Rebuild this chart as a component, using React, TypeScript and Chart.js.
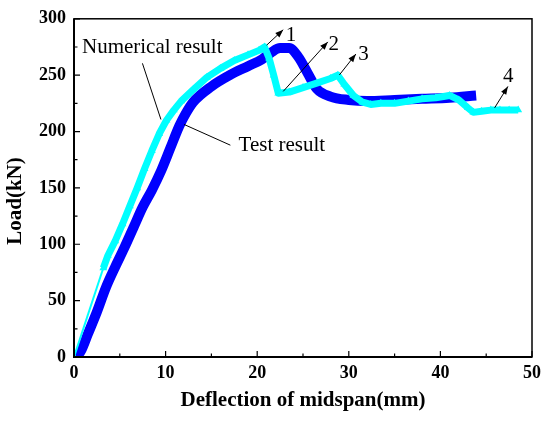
import React, { useEffect, useRef } from "react";
import { Chart, registerables } from "chart.js";

Chart.register(...registerables);

// Test result (dark blue band)
const testX = [0.3, 0.8, 1.5, 2.5, 3.5, 4.5, 5.5, 6.5, 7.5, 8.5, 9.5, 10.5, 11.5, 12.2, 13, 15, 17, 19, 20.5, 21.5, 22.5, 23.5, 24.5, 25.5, 26.5, 28, 30, 32, 35, 38, 41, 43.9];
const testY = [0, 6, 20, 40, 62, 80, 97, 115, 133, 148, 165, 185, 205, 216, 226, 240, 250, 258, 264, 270, 274, 274, 266, 252, 238, 231, 228, 227, 228, 229, 230, 232];

// Numerical result (cyan triangles)
const numX = [0, 3.2, 3.7, 4.5, 5.3, 6.1, 6.9, 7.7, 8.5, 9.3, 10.1, 10.9, 11.7, 13, 14.5, 16, 17.5, 19, 20.2, 20.8, 21.3, 21.8, 22.3, 23.5, 25, 26.5, 28, 28.8, 29.5, 30.5, 31.5, 32.4, 33.5, 35, 36.5, 38, 39.5, 41, 42, 43, 43.6, 44.5, 45.5, 46.5, 47.5, 48.5];
const numY = [0, 79, 90, 103, 118, 134, 150, 167, 183, 198, 210, 219, 227, 237, 248, 256, 263, 268, 272, 275, 265, 250, 234, 235, 239, 243, 247, 250, 242, 232, 226, 224, 225, 225, 227, 229, 230, 232, 228, 221, 217, 218, 219, 219, 219, 219];

const xTicks = [0, 10, 20, 30, 40, 50];
const yTicks = [0, 50, 100, 150, 200, 250, 300];

const xTitle = "Deflection of midspan(mm)";
const yTitle = "Load(kN)";

// text labels in data coordinates
const textLabels = [
  { text: "Numerical result", x: 0.87, y: 274.5, align: "left" },
  { text: "Test result", x: 17.97, y: 187.3, align: "left" },
  { text: "1", x: 23.7, y: 285.3, align: "center" },
  { text: "2", x: 28.35, y: 277.5, align: "center" },
  { text: "3", x: 31.6, y: 268.3, align: "center" },
  { text: "4", x: 47.4, y: 248.8, align: "center" },
];
// leader lines
const leaders = [
  { x1: 9.49, y1: 210.7, x2: 7.47, y2: 260.5, arrow: false },
  { x1: 12.01, y1: 206.3, x2: 17.07, y2: 187.9, arrow: false },
  { x1: 21.03, y1: 276.6, x2: 22.84, y2: 290.3, arrow: true },
  { x1: 22.84, y1: 235.6, x2: 27.71, y2: 279.5, arrow: true },
  { x1: 28.97, y1: 250.2, x2: 30.77, y2: 268.7, arrow: true },
  { x1: 45.92, y1: 221, x2: 47.37, y2: 240, arrow: true },
];

const SERIF = '"Liberation Serif", "Times New Roman", serif';

const framePlugin = {
  id: "framePlugin",
  afterDraw(chart: any) {
    const { ctx, chartArea } = chart;
    const xs = chart.scales.x;
    const ys = chart.scales.y;
    const { left, right, top, bottom } = chartArea;
    ctx.save();
    ctx.strokeStyle = "#000";
    ctx.lineWidth = 1.5;
    ctx.strokeRect(left, top, right - left, bottom - top);
    ctx.lineWidth = 2;
    ctx.beginPath();
    ctx.moveTo(left, top);
    ctx.lineTo(left, bottom);
    ctx.lineTo(right, bottom);
    ctx.stroke();
    ctx.lineWidth = 1.2;
    ctx.beginPath();
    for (let v = 0; v <= 50; v += 5) {
      const px = xs.getPixelForValue(v);
      const len = v % 10 === 0 ? 6 : 3.5;
      ctx.moveTo(px, bottom);
      ctx.lineTo(px, bottom - len);
    }
    for (let v = 0; v <= 300; v += 25) {
      const py = ys.getPixelForValue(v);
      const len = v % 50 === 0 ? 6 : 3.5;
      ctx.moveTo(left, py);
      ctx.lineTo(left + len, py);
    }
    ctx.stroke();

    ctx.lineWidth = 1;
    for (const l of leaders) {
      const x1 = xs.getPixelForValue(l.x1);
      const y1 = ys.getPixelForValue(l.y1);
      const x2 = xs.getPixelForValue(l.x2);
      const y2 = ys.getPixelForValue(l.y2);
      ctx.beginPath();
      ctx.moveTo(x1, y1);
      ctx.lineTo(x2, y2);
      ctx.stroke();
      if (l.arrow) {
        const a = Math.atan2(y2 - y1, x2 - x1);
        const hl = 8, hw = 3;
        ctx.beginPath();
        ctx.moveTo(x2, y2);
        ctx.lineTo(x2 - hl * Math.cos(a) + hw * Math.sin(a), y2 - hl * Math.sin(a) - hw * Math.cos(a));
        ctx.lineTo(x2 - hl * Math.cos(a) - hw * Math.sin(a), y2 - hl * Math.sin(a) + hw * Math.cos(a));
        ctx.closePath();
        ctx.fillStyle = "#000";
        ctx.fill();
      }
    }
    ctx.fillStyle = "#000";
    ctx.font = `21px ${SERIF}`;
    ctx.textBaseline = "middle";
    for (const t of textLabels) {
      ctx.textAlign = t.align as CanvasTextAlign;
      ctx.fillText(t.text, xs.getPixelForValue(t.x), ys.getPixelForValue(t.y));
    }
    ctx.font = `bold 21px ${SERIF}`;
    ctx.textAlign = "center";
    ctx.textBaseline = "middle";
    ctx.fillText(xTitle, (left + right) / 2, 401);
    ctx.save();
    ctx.translate(16, 201);
    ctx.rotate(-Math.PI / 2);
    ctx.fillText(yTitle, 0, 0);
    ctx.restore();
    ctx.restore();
  },
};

export default function App() {
  const ref = useRef<HTMLCanvasElement | null>(null);
  useEffect(() => {
    if (!ref.current) return;
    const chart = new Chart(ref.current, {
      type: "scatter",
      data: {
        datasets: [
          {
            label: "Numerical result",
            data: numX.map((x, i) => ({ x, y: numY[i] })),
            showLine: true,
            borderColor: "#00FFFF",
            backgroundColor: "#00FFFF",
            pointStyle: "triangle",
            pointRadius: 4.5,
            pointBorderWidth: 0,
            borderWidth: 7,
            borderJoinStyle: "round",
            segment: {
              borderWidth: (c: any) => (c.p0DataIndex === 0 ? 2 : 7),
            },
            order: 0,
          } as any,
          {
            label: "Test result",
            data: testX.map((x, i) => ({ x, y: testY[i] })),
            showLine: true,
            borderColor: "#0000FF",
            backgroundColor: "#0000FF",
            pointRadius: 0,
            borderWidth: 10,
            borderJoinStyle: "round",
            cubicInterpolationMode: "monotone",
            order: 1,
          } as any,
        ],
      },
      options: {
        animation: false,
        responsive: false,
        layout: { padding: { top: 15, right: 11, left: 0, bottom: 0 } },
        plugins: { legend: { display: false }, tooltip: { enabled: false } },
        scales: {
          x: {
            type: "linear",
            min: 0,
            max: 50,
            afterBuildTicks: (s: any) => {
              s.ticks = xTicks.map((v) => ({ value: v }));
            },
            afterFit: (s: any) => {
              s.height = 66;
            },
            grid: { display: false, drawTicks: false },
            border: { display: false },
            ticks: {
              padding: 6,
              color: "#000",
              font: { family: SERIF, size: 18, weight: "bold" },
              maxRotation: 0,
            },
          },
          y: {
            type: "linear",
            min: 0,
            max: 300,
            afterBuildTicks: (s: any) => {
              s.ticks = yTicks.map((v) => ({ value: v }));
            },
            afterFit: (s: any) => {
              s.width = 74;
            },
            grid: { display: false, drawTicks: false },
            border: { display: false },
            ticks: {
              padding: 8,
              color: "#000",
              font: { family: SERIF, size: 18, weight: "bold" },
            },
          },
        },
      },
      plugins: [framePlugin],
    });
    return () => chart.destroy();
  }, []);
  return (
    <div style={{ position: "absolute", left: 0, top: 0, width: 547, height: 423, background: "#fff" }}>
      <canvas ref={ref} width={547} height={423} />
    </div>
  );
}
